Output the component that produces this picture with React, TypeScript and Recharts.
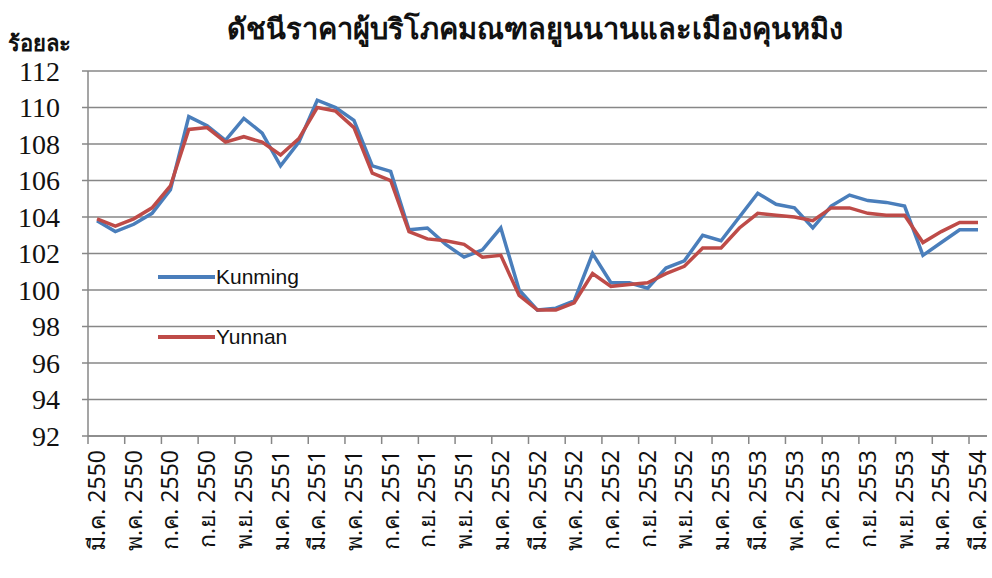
import { LineChart, Line, XAxis, YAxis, CartesianGrid } from 'recharts'

const thaiMonths = ['ม.ค.', 'ก.พ.', 'มี.ค.', 'เม.ย.', 'พ.ค.', 'มิ.ย.', 'ก.ค.', 'ส.ค.', 'ก.ย.', 'ต.ค.', 'พ.ย.', 'ธ.ค.']

// มี.ค. 2550 .. มี.ค. 2554, monthly
const months: string[] = []
for (let y = 2550; y <= 2554; y++) {
  for (let m = 0; m < 12; m++) {
    if (y === 2550 && m < 2) continue
    if (y === 2554 && m > 2) continue
    months.push(`${thaiMonths[m]} ${y}`)
  }
}

const kunming = [
  103.8, 103.2, 103.6, 104.2, 105.5, 109.5, 109.0, 108.2, 109.4, 108.6,
  106.8, 108.1, 110.4, 110.0, 109.3, 106.8, 106.5, 103.3, 103.4, 102.5,
  101.8, 102.2, 103.4, 100.0, 98.9, 99.0, 99.4, 102.0, 100.4, 100.4,
  100.1, 101.2, 101.6, 103.0, 102.7, 104.0, 105.3, 104.7, 104.5, 103.4,
  104.6, 105.2, 104.9, 104.8, 104.6, 101.9, 102.6, 103.3, 103.3,
]

const yunnan = [
  103.9, 103.5, 103.9, 104.5, 105.7, 108.8, 108.9, 108.1, 108.4, 108.1,
  107.4, 108.3, 110.0, 109.8, 108.9, 106.4, 106.0, 103.2, 102.8, 102.7,
  102.5, 101.8, 101.9, 99.7, 98.9, 98.9, 99.3, 100.9, 100.2, 100.3,
  100.4, 100.9, 101.3, 102.3, 102.3, 103.4, 104.2, 104.1, 104.0, 103.8,
  104.5, 104.5, 104.2, 104.1, 104.1, 102.6, 103.2, 103.7, 103.7,
]

const yTicks = [92, 94, 96, 98, 100, 102, 104, 106, 108, 110, 112]

const series = [
  { key: 'kunming', name: 'Kunming', color: '#4A7EBB' },
  { key: 'yunnan', name: 'Yunnan', color: '#BE4B48' },
]

const data = months.map((month, i) => ({ month, kunming: kunming[i], yunnan: yunnan[i] }))

const GRID = '#878787'
const THAI_FONT = 'Tahoma, "Noto Sans", "DejaVu Sans", sans-serif'
const SERIF = "'Liberation Serif', 'DejaVu Serif', 'Noto Serif', Times, serif"

function MonthTick(props: any) {
  const { x, y, payload } = props
  return (
    <g>
      <line x1={x - 9} x2={x - 9} y1={y} y2={y + 8} stroke={GRID} strokeWidth={1.5} />
      <text
        x={x}
        y={y + 14}
        dy="0.35em"
        transform={`rotate(-90, ${x}, ${y + 14})`}
        textAnchor="end"
        style={{ fontSize: 23, fontFamily: THAI_FONT, fill: '#111' }}
      >
        {payload.value}
      </text>
    </g>
  )
}

function ValueTick(props: any) {
  const { x, y, payload } = props
  return (
    <text x={x} y={y} dy="0.34em" textAnchor="end" fontFamily={SERIF} fontSize={28} fill="#111">
      {payload.value}
    </text>
  )
}

export default function App() {
  return (
    <div style={{ position: 'absolute', left: 0, top: 0, width: 992, height: 578, background: '#fff' }}>
      <div
        style={{
          position: 'absolute',
          left: 8,
          top: 26,
          fontFamily: THAI_FONT,
          fontWeight: 'bold',
          fontSize: 22,
          color: '#111',
        }}
      >
        ร้อยละ
      </div>
      <div
        style={{
          position: 'absolute',
          left: 190,
          top: 6,
          width: 690,
          textAlign: 'center',
          fontFamily: THAI_FONT,
          fontWeight: 'bold',
          fontSize: 29,
          color: '#111',
        }}
      >
        ดัชนีราคาผู้บริโภคมณฑลยูนนานและเมืองคุนหมิง
      </div>
      <LineChart width={992} height={578} data={data} margin={{ top: 71, right: 5, left: 0, bottom: 0 }}>
        <CartesianGrid vertical={false} stroke={GRID} strokeWidth={1.5} />
        <XAxis
          dataKey="month"
          interval={1}
          height={142}
          padding={{ left: 9, right: 9 }}
          axisLine={{ stroke: GRID, strokeWidth: 1.5 }}
          tickLine={false}
          tickSize={0}
          tickMargin={0}
          tick={<MonthTick />}
        />
        <YAxis
          domain={[92, 112]}
          ticks={yTicks}
          interval={0}
          width={88}
          tickSize={6}
          tickMargin={22}
          axisLine={{ stroke: GRID, strokeWidth: 1.5 }}
          tickLine={{ stroke: GRID, strokeWidth: 1.5 }}
          tick={<ValueTick />}
        />
        {series.map((s) => (
          <Line
            key={s.key}
            type="linear"
            dataKey={s.key}
            name={s.name}
            stroke={s.color}
            strokeWidth={3.5}
            dot={false}
            isAnimationActive={false}
          />
        ))}
      </LineChart>
      <div style={{ position: 'absolute', left: 158, top: 262 }}>
        {series.map((s) => (
          <div key={s.key} style={{ display: 'flex', alignItems: 'center', height: 30, marginBottom: 30 }}>
            <span style={{ display: 'inline-block', width: 57, height: 4, background: s.color }} />
            <span style={{ fontFamily: '"Liberation Sans", Arial, sans-serif', fontSize: 21, color: '#111', marginLeft: 1 }}>
              {s.name}
            </span>
          </div>
        ))}
      </div>
    </div>
  )
}
